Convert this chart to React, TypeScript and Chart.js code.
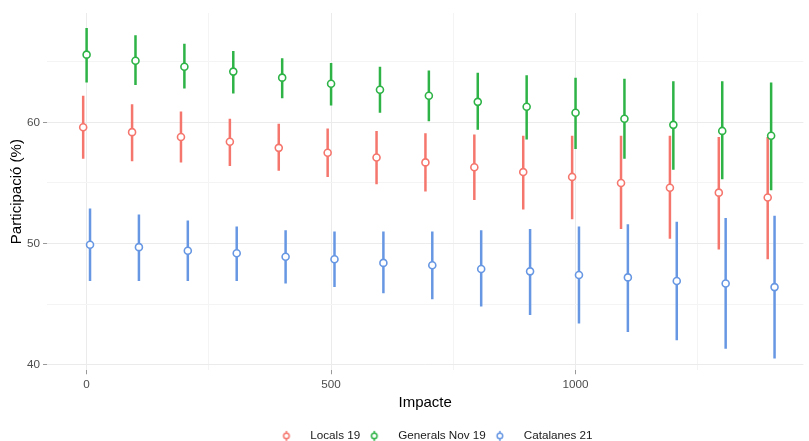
import React, { useEffect, useRef } from 'react';
import { Chart, registerables } from 'chart.js';

Chart.register(...registerables);

const impacte = [0, 100, 200, 300, 400, 500, 600, 700, 800, 900, 1000, 1100, 1200, 1300, 1400];
const seriesNames = ['Locals 19', 'Generals Nov 19', 'Catalanes 21'];
const seriesColors = ['#F5766D', '#2DB346', '#6797E3'];
const seriesDodge = [-7, 0, 7];

const locals19 = [59.6, 59.2, 58.8, 58.4, 57.9, 57.5, 57.1, 56.7, 56.3, 55.9, 55.5, 55.0, 54.6, 54.2, 53.8];
const locals19Lo = [57.0, 56.8, 56.7, 56.4, 56.0, 55.5, 54.9, 54.3, 53.6, 52.8, 52.0, 51.2, 50.4, 49.5, 48.7];
const locals19Hi = [62.2, 61.5, 60.9, 60.3, 59.9, 59.5, 59.3, 59.1, 59.0, 58.9, 58.9, 58.9, 58.9, 58.8, 58.8];

const generals19 = [65.6, 65.1, 64.6, 64.2, 63.7, 63.2, 62.7, 62.2, 61.7, 61.3, 60.8, 60.3, 59.8, 59.3, 58.9];
const generals19Lo = [63.3, 63.1, 62.8, 62.4, 62.0, 61.4, 60.8, 60.1, 59.4, 58.6, 57.8, 57.0, 56.1, 55.3, 54.4];
const generals19Hi = [67.8, 67.2, 66.5, 65.9, 65.3, 64.9, 64.6, 64.3, 64.1, 63.9, 63.7, 63.6, 63.4, 63.4, 63.3];

const catalanes21 = [49.9, 49.7, 49.4, 49.2, 48.9, 48.7, 48.4, 48.2, 47.9, 47.7, 47.4, 47.2, 46.9, 46.7, 46.4];
const catalanes21Lo = [46.9, 46.9, 46.9, 46.9, 46.7, 46.4, 45.9, 45.4, 44.8, 44.1, 43.4, 42.7, 42.0, 41.3, 40.5];
const catalanes21Hi = [52.9, 52.4, 51.9, 51.4, 51.1, 51.0, 51.0, 51.0, 51.1, 51.2, 51.4, 51.6, 51.8, 52.1, 52.3];

const xTicks = [0, 250, 500, 750, 1000, 1250];
const xLabelled = [0, 500, 1000];
const yTicks = [40, 45, 50, 55, 60, 65];
const yLabelled = [40, 50, 60];

const means = [locals19, generals19, catalanes21];
const lows = [locals19Lo, generals19Lo, catalanes21Lo];
const highs = [locals19Hi, generals19Hi, catalanes21Hi];

const FONT = "'Liberation Sans', Arial, Helvetica, sans-serif";

function makeGlyph(color: string): HTMLCanvasElement {
  const c = document.createElement('canvas');
  c.width = 24;
  c.height = 14;
  const g = c.getContext('2d')!;
  g.strokeStyle = color;
  g.lineWidth = 1.5;
  g.beginPath();
  g.moveTo(6, 2);
  g.lineTo(6, 12);
  g.stroke();
  g.beginPath();
  g.arc(6, 7, 2.8, 0, Math.PI * 2);
  g.fillStyle = '#ffffff';
  g.fill();
  g.stroke();
  return c;
}

const errorBars = {
  id: 'errorBars',
  beforeDatasetsDraw(chart: any) {
    const ctx = chart.ctx;
    const xs = chart.scales.x;
    const ys = chart.scales.y;
    const area = chart.chartArea;
    ctx.save();
    ctx.beginPath();
    ctx.rect(area.left, area.top, area.right - area.left, area.bottom - area.top);
    ctx.clip();
    chart.data.datasets.forEach((ds: any) => {
      ctx.strokeStyle = ds.borderColor;
      ctx.lineWidth = 2.5;
      ctx.lineCap = 'butt';
      ds.data.forEach((p: any, i: number) => {
        const px = xs.getPixelForValue(p.x);
        ctx.beginPath();
        ctx.moveTo(px, ys.getPixelForValue(ds.errLo[i]));
        ctx.lineTo(px, ys.getPixelForValue(ds.errHi[i]));
        ctx.stroke();
      });
    });
    ctx.restore();
  },
};

const legendPlace = {
  id: 'legendPlace',
  afterLayout(chart: any) {
    const lg = chart.legend;
    if (!lg) return;
    const dx = 32;
    lg.left += dx;
    lg.right += dx;
    const targetTop = 422;
    const dy = targetTop - lg.top;
    lg.top += dy;
    lg.bottom += dy;
  },
};

export default function App() {
  const ref = useRef<HTMLCanvasElement>(null);

  useEffect(() => {
    if (!ref.current) return;
    const glyphs = seriesColors.map(makeGlyph);
    const datasets = seriesNames.map((name, s) => ({
      label: name,
      data: impacte.map((x, i) => ({ x: x + seriesDodge[s], y: means[s][i] })),
      errLo: lows[s],
      errHi: highs[s],
      borderColor: seriesColors[s],
      backgroundColor: '#ffffff',
      pointBackgroundColor: '#ffffff',
      pointBorderColor: seriesColors[s],
      pointBorderWidth: 1.6,
      pointRadius: 3.5,
      showLine: false,
    }));

    const chart = new Chart(ref.current, {
      type: 'scatter',
      data: { datasets: datasets as any },
      plugins: [errorBars, legendPlace],
      options: {
        animation: false,
        responsive: false,
        devicePixelRatio: 1,
        layout: { padding: { top: 13, right: 0, bottom: 0, left: 0 } },
        scales: {
          x: {
            type: 'linear',
            min: -81,
            max: 1466,
            afterBuildTicks: (scale: any) => {
              scale.ticks = xTicks.map((v) => ({ value: v }));
            },
            border: { display: false },
            grid: {
              color: (c: any) => (xLabelled.includes(c.tick?.value) ? '#ebebeb' : '#f4f4f4'),
              lineWidth: 1,
              tickLength: 4,
              tickColor: (c: any) => (xLabelled.includes(c.tick?.value) ? '#999999' : 'rgba(0,0,0,0)'),
            },
            ticks: {
              padding: 3,
              maxRotation: 0,
              autoSkip: false,
              color: '#4d4d4d',
              font: { family: FONT, size: 11.7 },
              callback: (v: any) => (xLabelled.includes(Number(v)) ? String(v) : ''),
            },
            title: {
              display: true,
              text: 'Impacte',
              color: '#000000',
              font: { family: FONT, size: 15 },
              padding: { top: 0, bottom: 6 },
            },
          },
          y: {
            type: 'linear',
            min: 39.53,
            max: 69.04,
            afterBuildTicks: (scale: any) => {
              scale.ticks = yTicks.map((v) => ({ value: v }));
            },
            border: { display: false },
            grid: {
              color: (c: any) => (yLabelled.includes(c.tick?.value) ? '#ebebeb' : '#f4f4f4'),
              lineWidth: 1,
              tickLength: 4,
              tickColor: (c: any) => (yLabelled.includes(c.tick?.value) ? '#999999' : 'rgba(0,0,0,0)'),
            },
            ticks: {
              padding: 3,
              color: '#4d4d4d',
              font: { family: FONT, size: 11.7 },
              callback: (v: any) => (yLabelled.includes(Number(v)) ? String(v) : ''),
            },
            title: {
              display: true,
              text: 'Participació (%)',
              color: '#000000',
              font: { family: FONT, size: 15, lineHeight: 1 },
              padding: { top: 9, bottom: 0 },
            },
          },
        },
        plugins: {
          tooltip: { enabled: false },
          legend: {
            position: 'bottom',
            align: 'center',
            maxHeight: 22.7,
            labels: {
              usePointStyle: true,
              pointStyleWidth: 24,
              padding: 8,
              color: '#1a1a1a',
              font: { family: FONT, size: 11.7 },
              generateLabels: (ch: any) =>
                ch.data.datasets.map((ds: any, i: number) => ({
                  text: ds.label,
                  pointStyle: glyphs[i],
                  fillStyle: '#ffffff',
                  strokeStyle: seriesColors[i],
                  lineWidth: 0,
                  hidden: false,
                  datasetIndex: i,
                  fontColor: '#1a1a1a',
                })),
            },
          },
        },
      } as any,
    });

    return () => chart.destroy();
  }, []);

  return (
    <div style={{ position: 'absolute', left: 0, top: 0, width: 809, height: 441, background: '#ffffff' }}>
      <canvas ref={ref} width={809} height={441} style={{ display: 'block' }} />
    </div>
  );
}
